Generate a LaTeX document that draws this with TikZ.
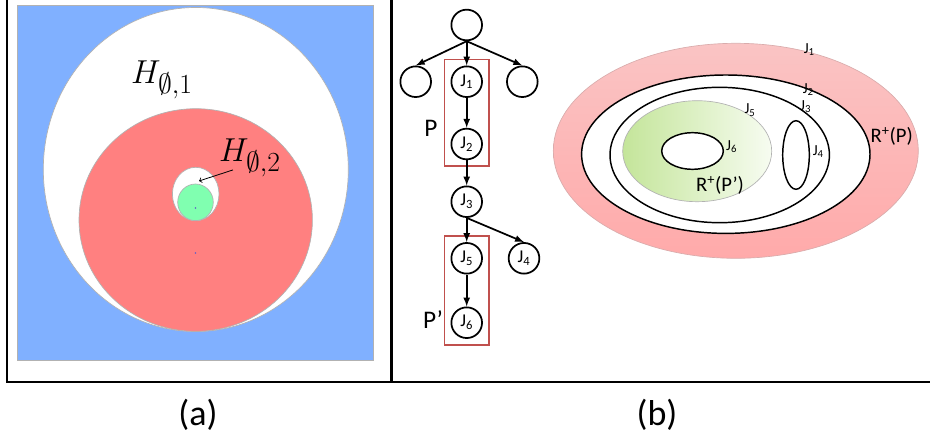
\documentclass[tikz,border=0pt]{standalone}
\usepackage{fontspec}
\setmainfont{Carlito}
\usetikzlibrary{fit}
\definecolor{bluebg}{RGB}{128,176,255}
\definecolor{redset}{RGB}{255,128,128}
\definecolor{greenset}{RGB}{128,255,176}
\definecolor{boxred}{RGB}{192,80,77}
\definecolor{pinktop}{RGB}{250,196,196}
\definecolor{pinkbot}{RGB}{255,170,170}
\definecolor{greenl}{RGB}{196,229,154}
\definecolor{greenr}{RGB}{247,252,241}
\definecolor{dotblue}{RGB}{96,96,200}
\begin{document}
\begin{tikzpicture}[x=0.75pt, y=0.75pt,
  jnode/.style = {draw, circle, line width=1.3pt, minimum size=23pt, inner sep=0pt, font=\fontsize{13.5}{14}\selectfont},
  pbox/.style = {draw=boxred, line width=1.1pt, inner sep=4.5pt},
  setline/.style = {draw, line width=1.1pt},
  jlabel/.style = {inner sep=0pt, font=\fontsize{11.5}{12}\selectfont},
  rlabel/.style = {inner sep=0pt, font=\fontsize{15.5}{16}\selectfont},
  hlabel/.style = {inner sep=0pt, font=\fontsize{29}{30}\selectfont},
  caption/.style = {inner sep=0pt, font=\fontsize{27}{28}\selectfont}]
\useasboundingbox (0,0) rectangle (930,-442);

% frame
\draw[line width=1.5pt] (7,0) -- (7,-382);
\draw[line width=2.2pt] (391.5,0) -- (391.5,-382);
\draw[line width=2.2pt] (6,-382) -- (930,-382);

% (a)
\filldraw[fill=bluebg, draw=gray!60, line width=0.5pt] (17,-5) rectangle (373,-360);
\filldraw[fill=white, draw=gray!60, line width=0.5pt] (195.8,-169.5) ellipse [x radius=152.5, y radius=162];
\filldraw[fill=redset, draw=gray!60, line width=0.5pt] (195.7,-220) ellipse [x radius=116.7, y radius=111.3];
\filldraw[fill=white, draw=gray!60, line width=0.5pt] (195.7,-194) ellipse [x radius=23.3, y radius=26.7];
\filldraw[fill=greenset, draw=gray!60, line width=0.5pt] (195.5,-202.3) ellipse [x radius=17.8, y radius=18.3];
\fill[dotblue] (195.5,-208) circle (0.9);
\fill[dotblue] (195.5,-253) circle (0.9);

\node[hlabel] (h1) at (162,-80) {$H_{\emptyset,1}$};
\node[hlabel] (h2) at (250,-158) {$H_{\emptyset,2}$};
\coordinate (h2tip) at (199,-181);
\draw[line width=0.6pt, ->] ([shift={(14,7)}]h2.south west) -- (h2tip);

\node[caption] (capa) at (198,-415) {(a)};

% (b) tree
\node[jnode] (root) at (466.7,-25) {};
\node[jnode] (left) at (415.7,-81.7) {};
\node[jnode] (j1) at (466.7,-81.7) {J\textsubscript{1}};
\node[jnode] (right) at (522.3,-81.7) {};
\node[jnode] (j2) at (466.7,-144) {J\textsubscript{2}};
\node[jnode] (j3) at (466.7,-201.7) {J\textsubscript{3}};
\node[jnode] (j5) at (466.7,-258.3) {J\textsubscript{5}};
\node[jnode] (j4) at (524,-258.3) {J\textsubscript{4}};
\node[jnode] (j6) at (466.7,-322.7) {J\textsubscript{6}};

\node[pbox, fit=(j1)(j2)] (boxp) {};
\node[pbox, fit=(j5)(j6)] (boxpp) {};
\node[rlabel, font=\fontsize{19}{20}\selectfont] (lblp) at (431,-128.3) {P};
\node[rlabel, font=\fontsize{19}{20}\selectfont] (lblpp) at (433,-320) {P’};

\begin{scope}[line width=1.3pt,-latex]
\draw (root.south) -- (left.north);
\draw (root.south) -- (j1.north);
\draw (root.south) -- (right.north);
\draw (j1) -- (j2);
\draw (j2) -- (j3);
\draw (j3.south) -- (j5.north);
\draw (j3.south) -- (j4.north);
\draw (j5) -- (j6);
\end{scope}

% (b) regions
\shade[top color=pinktop, bottom color=pinkbot, draw=pink!70!gray, line width=0.5pt] (735.8,-150.8) ellipse [x radius=182.5, y radius=107.5];
\filldraw[fill=white, setline] (725.8,-154.2) ellipse [x radius=144.2, y radius=79.2];
\filldraw[fill=white, setline] (719.7,-155) ellipse [x radius=109.7, y radius=67.7];
\shade[left color=greenl, right color=greenr, draw=gray!60, line width=0.5pt] (697.2,-151.2) ellipse [x radius=74.5, y radius=50.5];
\filldraw[fill=white, setline] (692.5,-151) ellipse [x radius=30.8, y radius=18.3];
\draw[setline] (796,-155) ellipse [x radius=13.3, y radius=34.3];

\node[jlabel] (rj1) at (809.3,-49.3) {J\textsubscript{1}};
\node[jlabel] (rj2) at (808.3,-89.3) {J\textsubscript{2}};
\node[jlabel] (rj3) at (805.7,-106.7) {J\textsubscript{3}};
\node[jlabel] (rj5) at (750,-110) {J\textsubscript{5}};
\node[jlabel] (rj6) at (731.7,-146.7) {J\textsubscript{6}};
\node[jlabel] (rj4) at (818.3,-151.7) {J\textsubscript{4}};
\node[rlabel] (rp) at (891.7,-136.7) {R\textsuperscript{+}(P)};
\node[rlabel] (rpp) at (720,-185) {R\textsuperscript{+}(P’)};

\node[caption] (capb) at (657,-415) {(b)};
\end{tikzpicture}
\end{document}
